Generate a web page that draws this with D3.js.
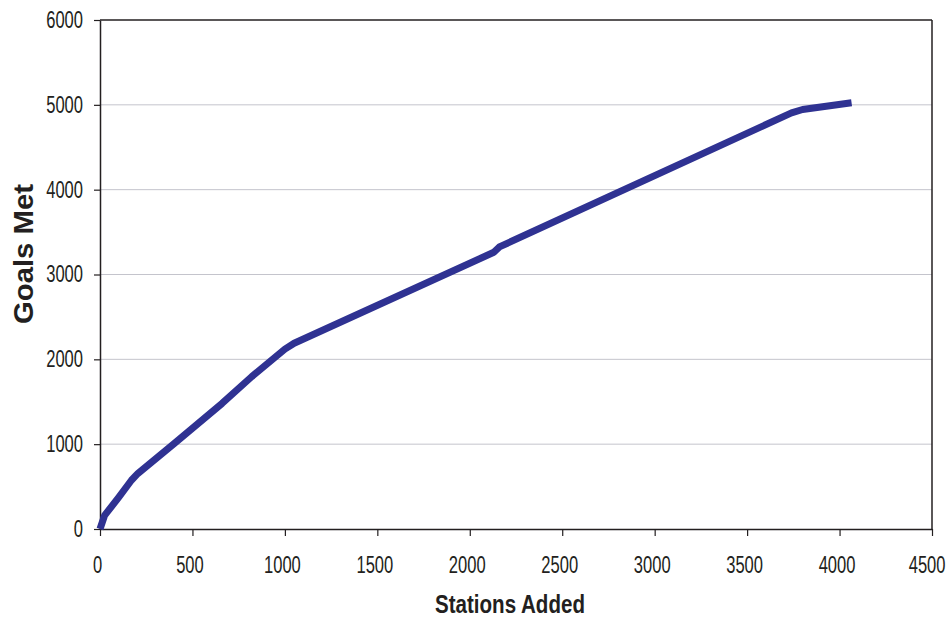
<!DOCTYPE html>
<html><head><meta charset="utf-8">
<script src="https://cdn.jsdelivr.net/npm/d3@7"></script>
<style>body{margin:0;background:#fff}svg{display:block}</style>
</head><body>
<svg id="c" width="948" height="619"></svg>
<script>
const stationsAdded = [0, 25, 100, 170, 205, 400, 660, 820, 1000, 1050, 2130, 2160, 3740, 3800, 4065];
const goalsMet      = [0, 160, 370, 575, 655, 1005, 1480, 1795, 2120, 2190, 3262, 3325, 4905, 4945, 5025];
const xTicks = [0, 500, 1000, 1500, 2000, 2500, 3000, 3500, 4000, 4500];
const yTicks = [0, 1000, 2000, 3000, 4000, 5000, 6000];

const W = 948, H = 619;
const m = {left: 100, right: 16, top: 20, bottom: 90};
const svg = d3.select("#c");
const font = "'Liberation Sans',Arial,sans-serif";
const x = d3.scaleLinear().domain([0, 4500]).range([m.left, W - m.right]);
const y = d3.scaleLinear().domain([0, 6000]).range([H - m.bottom, m.top]);
const axisCol = "#231f20";

// horizontally squeeze text with a real transform (keeps bbox correct)
function squeeze(sel, k) {
  sel.each(function() {
    const t = d3.select(this);
    const x0 = +(t.attr("x") || 0), dx0 = parseFloat(t.attr("dx") || 0);
    t.attr("x", x0 / k).attr("dx", dx0 / k).attr("transform", `scale(${k},1)`);
  });
}

// gridlines
svg.append("g").selectAll("line").data(yTicks.filter(d => d > 0 && d < 6000)).join("line")
  .attr("x1", x(0)).attr("x2", x(4500)).attr("y1", d => y(d)).attr("y2", d => y(d))
  .attr("stroke", "#c4c4cc").attr("stroke-width", 1);

// frame top/right
svg.append("line").attr("x1", x(0)).attr("x2", x(4500)).attr("y1", y(6000)).attr("y2", y(6000))
  .attr("stroke", axisCol).attr("stroke-width", 1.5);
svg.append("line").attr("x1", x(4500)).attr("x2", x(4500)).attr("y1", y(6000)).attr("y2", y(0))
  .attr("stroke", axisCol).attr("stroke-width", 1.5);

const xa = svg.append("g").attr("transform", `translate(0,${y(0)})`)
  .call(d3.axisBottom(x).tickValues(xTicks).tickFormat(d3.format("d")).tickSize(7).tickSizeOuter(0).tickPadding(21));
const ya = svg.append("g").attr("transform", `translate(${x(0)},0)`)
  .call(d3.axisLeft(y).tickValues(yTicks).tickFormat(d3.format("d")).tickSize(6).tickSizeOuter(0).tickPadding(11));
[xa, ya].forEach(a => {
  a.select(".domain").attr("stroke", axisCol).attr("stroke-width", 1.5);
  a.selectAll(".tick line").attr("stroke", axisCol).attr("stroke-width", 1.2);
  a.selectAll("text").attr("fill", axisCol).style("font-family", font).style("font-size", "23px");
});
xa.selectAll("text").attr("dx", -3);
xa.selectAll(".tick").filter(d => d === 4500).select("text")
  .attr("text-anchor", "end").attr("x", 13).attr("dx", 0);
squeeze(xa.selectAll("text"), 0.72);
squeeze(ya.selectAll("text"), 0.72);

// line
const pts = stationsAdded.map((s, i) => [s, goalsMet[i]]);
svg.append("path").datum(pts)
  .attr("d", d3.line().x(d => x(d[0])).y(d => y(d[1])))
  .attr("fill", "none").attr("stroke", "#2f3292").attr("stroke-width", 7)
  .attr("stroke-linejoin", "round").attr("stroke-linecap", "butt");

// titles
const xt = svg.append("text").attr("x", 510).attr("y", 613)
  .attr("text-anchor", "middle").attr("fill", axisCol)
  .style("font-family", font).style("font-weight", "bold").style("font-size", "26px")
  .text("Stations Added");
squeeze(xt, 150 / xt.node().getComputedTextLength());

const ytg = svg.append("g").attr("transform", `translate(33,254) rotate(-90)`);
const yt = ytg.append("text").attr("x", 0).attr("y", 0)
  .attr("text-anchor", "middle").attr("fill", axisCol)
  .style("font-family", font).style("font-weight", "bold").style("font-size", "27px")
  .text("Goals Met");
squeeze(yt, 140 / yt.node().getComputedTextLength());
</script>
</body></html>
